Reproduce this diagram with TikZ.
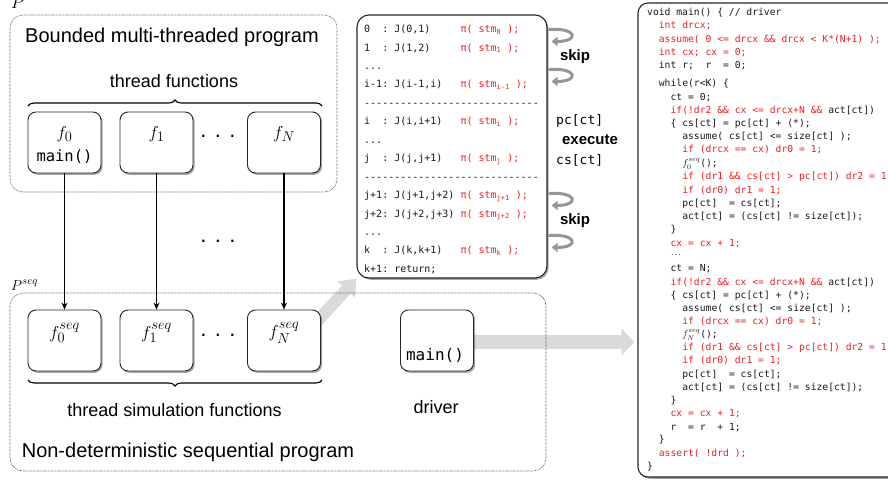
\documentclass[tikz,border=0pt]{standalone}
\usepackage{fontspec}
\setmainfont{Liberation Sans}
\setmonofont{DejaVu Sans Mono}
\usetikzlibrary{arrows.meta,shadows,decorations.pathreplacing,calc}
\pgfdeclarelayer{back}
\pgfsetlayers{back,main}
\definecolor{codered}{RGB}{238,32,32}
\definecolor{arrowgray}{RGB}{218,218,218}
\definecolor{loopgray}{RGB}{150,150,150}
\newcommand\fsz[1]{\fontsize{#1}{#1}\selectfont}
\newcommand\redtxt[1]{\textcolor{codered}{#1}}
\newcommand\dashrow{-{}-{}-{}-{}-{}-{}-{}-{}-{}-{}-{}-{}-{}-{}-{}-{}-{}-{}-{}-{}-{}-{}-{}-{}-{}-{}-{}-{}-{}}
\tikzset{
  boxshadow/.style={drop shadow={shadow xshift=1.6pt,shadow yshift=-1.8pt,fill=black,opacity=0.35}},
  fbox/.style={draw=black!85,line width=0.9pt,rounded corners=8pt,fill=white,
    minimum width=73pt,minimum height=61pt,inner sep=0pt,boxshadow},
  codebox/.style={draw=black!85,line width=1.1pt,rounded corners=12pt,fill=white,inner sep=0pt,boxshadow},
  region/.style={draw=black!75,line width=0.6pt,dash pattern=on 0.6pt off 0.8pt,rounded corners=13pt},
  title/.style={font=\fsz{20},inner sep=0pt},
  caption/.style={font=\fsz{18},inner sep=0pt},
  flabel/.style={font=\fsz{19},inner sep=0pt},
  ttlabel/.style={font=\ttfamily\fsz{15.5},inner sep=0pt},
  dotsnode/.style={font=\fsz{22},inner sep=0pt},
  mid/.style={anchor=base west,inner sep=0pt,font=\ttfamily\fsz{10},text=black!90},
  drv/.style={anchor=base west,inner sep=0pt,font=\ttfamily\fsz{9.7},text=black!90},
  side/.style={anchor=west,inner sep=0pt,font=\ttfamily\fsz{13}},
  sidebold/.style={inner sep=0pt,font=\bfseries\fsz{15}},
  flow/.style={-{Stealth[length=7pt,width=6pt]},line width=1.3pt},
  bracestyle/.style={decorate,decoration={brace,amplitude=6pt},line width=1.1pt},
  bigarrow/.style={draw=arrowgray,line width=14pt,-{Triangle[length=13pt,width=26pt]}},
  diagarrow/.style={draw=arrowgray,line width=12pt,-{Triangle[length=15pt,width=23pt]}},
  skiparrow/.style={draw=loopgray,line width=3pt,-{Triangle[length=6pt,width=9pt]}},
}
\begin{document}
\begin{tikzpicture}[x=1pt,y=-1pt]
\useasboundingbox (0,0) rectangle (888,485);
\clip (0,0) rectangle (888,485);

% program regions
\node[anchor=base west,font=\fsz{17},inner sep=0pt] (plabel) at (11,8) {$P$};
\node[anchor=base west,font=\fsz{15},inner sep=0pt] (pseqlabel) at (11,290) {$P^{seq}$};
\node[title] (toptitle) at (172,37) {Bounded multi-threaded program};
\node[caption] (topcap) at (174,81) {thread functions};
\node[caption] (botcap) at (174.5,410) {thread simulation functions};
\node[title] (bottitle) at (188,452) {Non-deterministic sequential program};

% thread functions
\node[fbox] (f0) at (64.5,142.5) {};
\node[fbox] (f1) at (156.5,142.5) {};
\node[fbox] (fN) at (284,142.5) {};
\node[flabel] (f0l) at (64.5,134) {$f_0$};
\node[ttlabel] (f0m) at (64.5,157) {main()};
\node[flabel] (f1l) at (156.5,134) {$f_1$};
\node[flabel] (fNl) at (284,134) {$f_N$};
\node[dotsnode] (dtop) at (218,136) {.\hspace{8.4pt}.\hspace{8.4pt}.};
\node[dotsnode] (dmid) at (218,241) {.\hspace{8.4pt}.\hspace{8.4pt}.};

% simulation functions
\node[fbox] (f0s) at (64.5,340.5) {};
\node[fbox] (f1s) at (156.5,340.5) {};
\node[fbox] (fNs) at (284,340.5) {};
\node[flabel] (f0sl) at (64.5,333) {$f_0^{seq}$};
\node[flabel] (f1sl) at (156.5,333) {$f_1^{seq}$};
\node[flabel] (fNsl) at (284,333) {$f_N^{seq}$};
\node[dotsnode] (dbot) at (218,335) {.\hspace{8.4pt}.\hspace{8.4pt}.};

% driver
\node[fbox] (mbox) at (437,340.5) {};
\node[font=\ttfamily\fsz{16},inner sep=0pt] (mtext) at (435,355) {main()};
\node[caption] (drvcap) at (436,407) {driver};

\draw[bracestyle] (28,106) -- (322,106);
\draw[bracestyle] (322,380) -- (28,380);

\draw[flow] (f0.south) -- (f0s.north);
\draw[flow] (f1.south) -- (f1s.north);
\draw[flow] (fN.south) -- (fNs.north);

% transformed thread body
\node[codebox] (tr) at (452,146.5) [minimum width=190pt,minimum height=263pt] {};
\node[mid] (m1) at (364,32.5) {0~~:~J(0,1)~~~~~\redtxt{π( stm\textsubscript{0} );}};
\node[mid] (m2) at (364,51) {1~~:~J(1,2)~~~~~\redtxt{π( stm\textsubscript{1} );}};
\node[mid] (m3) at (364,69.4) {...};
\node[mid] (m4) at (364,87.9) {i-1:~J(i-1,i)~~~\redtxt{π( stm\textsubscript{i-1} );}};
\node[mid] (m5) at (364,106.3) {\dashrow};
\node[mid] (m6) at (364,124.8) {i~~:~J(i,i+1)~~~\redtxt{π( stm\textsubscript{i} );}};
\node[mid] (m7) at (364,143.2) {...};
\node[mid] (m8) at (364,161.7) {j~~:~J(j,j+1)~~~\redtxt{π( stm\textsubscript{j} );}};
\node[mid] (m9) at (364,180.1) {\dashrow};
\node[mid] (m10) at (364,198.6) {j+1:~J(j+1,j+2)~\redtxt{π( stm\textsubscript{j+1} );}};
\node[mid] (m11) at (364,217) {j+2:~J(j+2,j+3)~\redtxt{π( stm\textsubscript{j+2} );}};
\node[mid] (m12) at (364,235.5) {...};
\node[mid] (m13) at (364,253.9) {k~~:~J(k,k+1)~~~\redtxt{π( stm\textsubscript{k} );}};
\node[mid] (m14) at (364,272.4) {k+1:~return;};

% skip / execute annotations
\draw[skiparrow] ($(tr.north east)+(1,15)$) .. controls ($(tr.north east)+(30,13)$) and ($(tr.north east)+(32,27)$) .. ($(tr.north east)+(4,27)$);
\draw[skiparrow] ($(tr.north east)+(1,55)$) .. controls ($(tr.north east)+(30,53)$) and ($(tr.north east)+(32,67)$) .. ($(tr.north east)+(4,67)$);
\draw[skiparrow] ($(tr.north east)+(1,179)$) .. controls ($(tr.north east)+(30,177)$) and ($(tr.north east)+(32,191)$) .. ($(tr.north east)+(4,191)$);
\draw[skiparrow] ($(tr.north east)+(1,221)$) .. controls ($(tr.north east)+(30,219)$) and ($(tr.north east)+(32,233)$) .. ($(tr.north east)+(4,233)$);
\node[sidebold] (skip1) at (575,57) {skip};
\node[sidebold] (skip2) at (575,221) {skip};
\node[side] (pcct) at (556,121) {pc[ct]};
\node[sidebold] (exec) at (590,140) {execute};
\node[side] (csct) at (556,160) {cs[ct]};

% driver code
\node[codebox,rounded corners=10pt] (drvcode) at (769,240) [minimum width=262pt,minimum height=474pt] {};
\node[drv] (c1) at (647,15.4) {void main() \{ // driver};
\node[drv] (c2) at (658.7,28.4) {\redtxt{int drcx;}};
\node[drv] (c3) at (658.7,42) {\redtxt{assume( 0 <= drcx \&\& drcx < K*(N+1) );}};
\node[drv] (c4) at (658.7,55.4) {\redtxt{int cx; cx = 0;}};
\node[drv] (c5) at (658.7,68.2) {int r;~~r~~= 0;};
\node[drv] (c6) at (658.7,86.8) {while(r<K) \{};
\node[drv] (c7) at (670.4,100.4) {ct = 0;};
\node[drv] (c8) at (670.4,113) {\redtxt{if(!dr2 \&\& cx <= drcx+N \&\&} act[ct])};
\node[drv] (c9) at (670.4,126.4) {\{ cs[ct] = pc[ct] + (*);};
\node[drv] (c10) at (682.1,139.4) {assume( cs[ct] <= size[ct] );};
\node[drv] (c11) at (682.1,152.4) {\redtxt{if (drcx == cx) dr0 = 1;}};
\node[drv] (c12) at (682.1,166.4) {$f_0^{seq}$();};
\node[drv] (c13) at (682.1,179.4) {\redtxt{if (dr1 \&\& cs[ct] > pc[ct]) dr2 = 1;}};
\node[drv] (c14) at (682.1,193) {\redtxt{if (dr0) dr1 = 1;}};
\node[drv] (c15) at (682.1,206) {pc[ct]~~= cs[ct];};
\node[drv] (c16) at (682.1,219.4) {act[ct] = (cs[ct] != size[ct]);};
\node[drv] (c17) at (670.4,232) {\}};
\node[drv] (c18) at (670.4,246) {\redtxt{cx = cx + 1;}};
\node[drv,font=\ttfamily\fsz{6}] (c19) at (670.4,255.5) {...};
\node[drv] (c20) at (670.4,271.4) {ct = N;};
\node[drv] (c21) at (670.4,285) {\redtxt{if(!dr2 \&\& cx <= drcx+N \&\&} act[ct])};
\node[drv] (c22) at (670.4,298) {\{ cs[ct] = pc[ct] + (*);};
\node[drv] (c23) at (682.1,311) {assume( cs[ct] <= size[ct] );};
\node[drv] (c24) at (682.1,324) {\redtxt{if (drcx == cx) dr0 = 1;}};
\node[drv] (c25) at (682.1,337.4) {$f_N^{seq}$();};
\node[drv] (c26) at (682.1,350.4) {\redtxt{if (dr1 \&\& cs[ct] > pc[ct]) dr2 = 1;}};
\node[drv] (c27) at (682.1,363.4) {\redtxt{if (dr0) dr1 = 1;}};
\node[drv] (c28) at (682.1,377) {pc[ct]~~= cs[ct];};
\node[drv] (c29) at (682.1,390.4) {act[ct] = (cs[ct] != size[ct]);};
\node[drv] (c30) at (670.4,403.4) {\}};
\node[drv] (c31) at (670.4,416.4) {\redtxt{cx = cx + 1;}};
\node[drv] (c32) at (670.4,430) {r~~= r~~+ 1;};
\node[drv] (c33) at (658.7,442.4) {\}};
\node[drv] (c34) at (658.7,456.4) {\redtxt{assert( !drd );}};
\node[drv] (c35) at (647,469.4) {\}};

% wide gray transformation arrows, behind everything
\begin{pgfonlayer}{back}
\draw[bigarrow] ($(mbox.east)+(0,1.5)$) -- ($(mbox.east -| drvcode.west)+(-3,1.5)$);
\draw[diagarrow] ($(fNs.north east)+(-6,14)$) -- (tr.south west);
\end{pgfonlayer}

% dotted program frames
\draw[region] (10,15) rectangle (337,192);
\draw[region] (10,293) rectangle (546,471);
\end{tikzpicture}
\end{document}
